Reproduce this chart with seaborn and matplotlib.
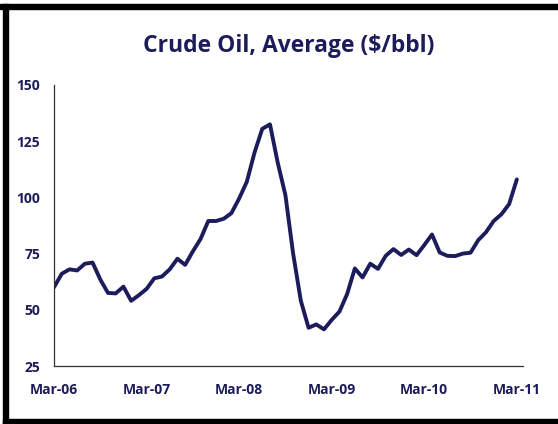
import matplotlib
matplotlib.use("Agg")
import matplotlib.pyplot as plt
from matplotlib.patches import Rectangle
import seaborn as sns
import pandas as pd

# Monthly average crude oil price, Mar-06 .. Mar-11 ($/bbl)
months = list(range(61))
price = [
    60.0, 66.0, 68.0, 67.5, 70.5, 71.0, 63.5, 57.5, 57.3, 60.3, 54.0, 56.5,
    59.3, 64.0, 64.8, 68.0, 72.7, 70.0, 76.0, 81.5, 89.5, 89.5, 90.5, 93.0,
    99.5, 107.0, 120.0, 130.5, 132.5, 115.5, 101.0, 75.0, 54.0, 42.0, 43.5, 41.3,
    45.5, 49.2, 57.0, 68.4, 64.4, 70.5, 68.2, 74.0, 77.0, 74.4, 76.8, 74.3,
    78.8, 83.5, 75.5, 74.0, 73.9, 75.0, 75.4, 81.0, 84.5, 89.5, 92.5, 97.0,
    108.0,
]
tick_months = [0, 12, 24, 36, 48, 60]
tick_labels = ["Mar-06", "Mar-07", "Mar-08", "Mar-09", "Mar-10", "Mar-11"]
y_ticks = [25, 50, 75, 100, 125, 150]
title = "Crude Oil, Average ($/bbl)"

navy = "#1c1c5a"
df = pd.DataFrame({"month": months, "price": price})

sns.set_theme(style="white")
plt.rcParams["font.family"] = ["Open Sans", "DejaVu Sans"]

W, H = 558, 424
fig = plt.figure(figsize=(W / 100, H / 100), dpi=100)
ax = fig.add_axes([54 / W, 1 - 366 / H, (523 - 54) / W, (366 - 85) / H])

sns.lineplot(data=df, x="month", y="price", ax=ax, color=navy, linewidth=2.8,
             solid_joinstyle="round", solid_capstyle="round")

ax.set_xlim(0, 60.8)
ax.set_ylim(25, 150)
ax.set_xticks(tick_months)
ax.set_xticklabels(tick_labels)
ax.set_yticks(y_ticks)
ax.set_yticklabels([str(v) for v in y_ticks])
ax.set_xlabel("")
ax.set_ylabel("")

for side in ("top", "right"):
    ax.spines[side].set_visible(False)
for side in ("left", "bottom"):
    ax.spines[side].set_color("#333333")
    ax.spines[side].set_linewidth(0.9)

ax.tick_params(axis="x", length=5, width=0.9, color="#333333", direction="out",
               pad=7, labelsize=10, labelcolor=navy)
ax.tick_params(axis="y", length=0, pad=10, labelsize=10, labelcolor=navy)
for lbl in ax.get_xticklabels() + ax.get_yticklabels():
    lbl.set_fontweight("bold")

fig.text((54 + 523) / 2 / W, 1 - 46 / H, title, ha="center", va="center",
         fontsize=16.5, color=navy, fontweight="bold")

# frame around the figure (no right edge)
frame = dict(transform=fig.transFigure, color="black", zorder=10, clip_on=False)
fig.patches.append(Rectangle((0, 1 - 9 / H), 1, 5 / H, **frame))
fig.patches.append(Rectangle((3 / W, 0), 5 / W, 1 - 4 / H, **frame))
fig.patches.append(Rectangle((3 / W, 0), 1, 5 / H, **frame))

fig.savefig("out.png", dpi=100)
